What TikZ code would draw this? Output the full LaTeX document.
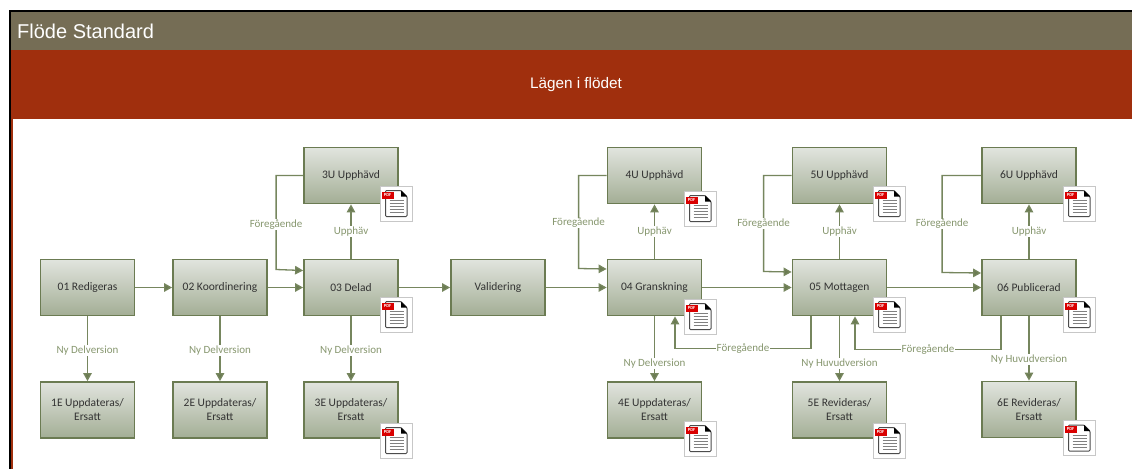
\documentclass[tikz,border=0pt]{standalone}
\usepackage{fontspec}
\setmainfont{Carlito}
\newfontfamily\titlefont{Liberation Sans}
\usetikzlibrary{calc,arrows.meta}
\definecolor{bandbrown}{HTML}{756D55}
\definecolor{bandred}{HTML}{A02F0D}
\definecolor{boxedge}{HTML}{6B7B52}
\definecolor{boxtop}{HTML}{E1E4DE}
\definecolor{boxbottom}{HTML}{A3AE95}
\definecolor{flowline}{HTML}{76865E}
\definecolor{flowtext}{HTML}{87976F}
\tikzset{
  state/.style={draw=boxedge,line width=1.8pt,top color=boxtop,bottom color=boxbottom,
    minimum width=94pt,minimum height=56pt,align=center,inner sep=0pt,
    font=\fontsize{11.5}{14}\selectfont,text=black!80},
  flow/.style={draw=flowline,line width=1.3pt,-{Triangle[length=8pt,width=8.5pt,fill=boxedge]}},
  flowlabel/.style={fill=white,inner sep=.5pt,text=flowtext,font=\fontsize{11}{13}\selectfont},
  pics/pdficon/.style={code={
    \fill[white,draw=black!22,line width=.8pt] (-16,-17.5) rectangle (16,17.5);
    \draw[fill=white,draw=black!70,line width=1pt,rounded corners=1pt]
      (-10.5,-13) -- (5,-13) -- (11,-7) -- (11,13) -- (-10.5,13) -- cycle;
    \fill[black] (5,-13) -- (11,-7) -- (5,-7) -- cycle;
    \foreach \ly in {-3,0,3,6,9}
      \draw[black!50,line width=.7pt] (-6.5,\ly) -- (7.5,\ly);
    \node[fill=red!85!black,text=white,inner sep=0pt,minimum width=12pt,minimum height=7pt,
      font=\fontsize{4.5}{5}\bfseries\selectfont] (tag) at (-8.5,-8.5) {PDF};
  }}
}
\begin{document}
\begin{tikzpicture}[x=1pt,y=-1pt]
\useasboundingbox (0,0) rectangle (1132,469);
% frame and bands
\fill[black] (9,10) rectangle (1132,469);
\fill[bandred] (11,12) rectangle (1132,469);
\fill[white] (13,119) rectangle (1132,469);
\fill[bandbrown] (11,12) rectangle (1132,49.5);
\node[anchor=west,text=white,inner sep=0pt,font=\titlefont\fontsize{20}{22}\selectfont] (title) at (17,31) {Flöde Standard};
\node[text=white,inner sep=0pt,font=\titlefont\fontsize{15.3}{17}\selectfont] (band) at (576,85) {Lägen i flödet};
% main row
\node[state] (s01) at (87.5,287.5) {01 Redigeras};
\node[state] (s02) at (220,287.5) {02 Koordinering};
\node[state] (s03) at (351,287.5) {03 Delad};
\node[state] (val) at (498,287.5) {Validering};
\node[state] (s04) at (654.5,287.5) {04 Granskning};
\node[state] (s05) at (839.5,287.5) {05 Mottagen};
\node[state] (s06) at (1029,287.5) {06 Publicerad};
% top row
\node[state] (u3) at (351,175.5) {3U Upphävd};
\node[state] (u4) at (654.5,175.5) {4U Upphävd};
\node[state] (u5) at (839.5,175.5) {5U Upphävd};
\node[state] (u6) at (1029,175.5) {6U Upphävd};
% bottom row
\node[state] (e1) at (87.5,410) {1E Uppdateras/\\Ersatt};
\node[state] (e2) at (220,410) {2E Uppdateras/\\Ersatt};
\node[state] (e3) at (351,410) {3E Uppdateras/\\Ersatt};
\node[state] (e4) at (654.5,410) {4E Uppdateras/\\Ersatt};
\node[state] (e5) at (839.5,410) {5E Revideras/\\Ersatt};
\node[state] (e6) at (1029,409.5) {6E Revideras/\\Ersatt};
% forward
\draw[flow] (s01) -- (s02);
\draw[flow] (s02) -- (s03);
\draw[flow] (s03) -- (val);
\draw[flow] (val) -- (s04);
\draw[flow] (s04) -- (s05);
\draw[flow] (s05) -- (s06);
% up and down
\foreach \from/\to/\txt/\lpos in {s01/e1/Ny Delversion/.53,s02/e2/Ny Delversion/.53,s03/e3/Ny Delversion/.53,
    s04/e4/Ny Delversion/.73,s05/e5/Ny Huvudversion/.73,s06/e6/Ny Huvudversion/.67,
    s03/u3/Upphäv/.5,s04/u4/Upphäv/.5,s05/u5/Upphäv/.5,s06/u6/Upphäv/.5}
  \draw[flow] (\from) -- node[flowlabel,pos=\lpos] {\txt} (\to);
% back from the upper row
\draw[flow] (u3.west) -- ++(-27,0) -- node[flowlabel,pos=0.52] {Föregående} ++(0,94) -- ([yshift=17pt]s03.west);
\draw[flow] (u4.west) -- ++(-28,0) -- node[flowlabel,pos=0.51] {Föregående} ++(0,93) -- ([yshift=18.5pt]s04.west);
\draw[flow] (u5.west) -- ++(-28,0) -- node[flowlabel,pos=0.5] {Föregående} ++(0,96) -- ([yshift=15.5pt]s05.west);
\draw[flow] (u6.west) -- ++(-39,0) -- node[flowlabel,pos=0.5] {Föregående} ++(0,97) -- ([yshift=14.5pt]s06.west);
% back to the previous state
\draw[flow] ([xshift=-28.5pt]s05.south) -- ++(0,32) -- node[flowlabel,pos=0.5] {Föregående} ++(-136,0) -- ([xshift=20.5pt]s04.south);
\draw[flow] ([xshift=-28pt]s06.south) -- ++(0,33) -- node[flowlabel,pos=0.5] {Föregående} ++(-146,0) -- ([xshift=15.5pt]s05.south);
% pdf icons
\foreach \name/\xpos/\ypos in {u3/396/203.5,u4/700/208.5,u5/889/203.5,u6/1079/203.5,
    s03/396/314.5,s04/700/316.5,s05/889/314.5,s06/1079/314.5,
    e3/396/440.5,e4/700/438.5,e5/889/440.5,e6/1079/438}
  \pic (\name) at (\xpos,\ypos) {pdficon};
\end{tikzpicture}
\end{document}
